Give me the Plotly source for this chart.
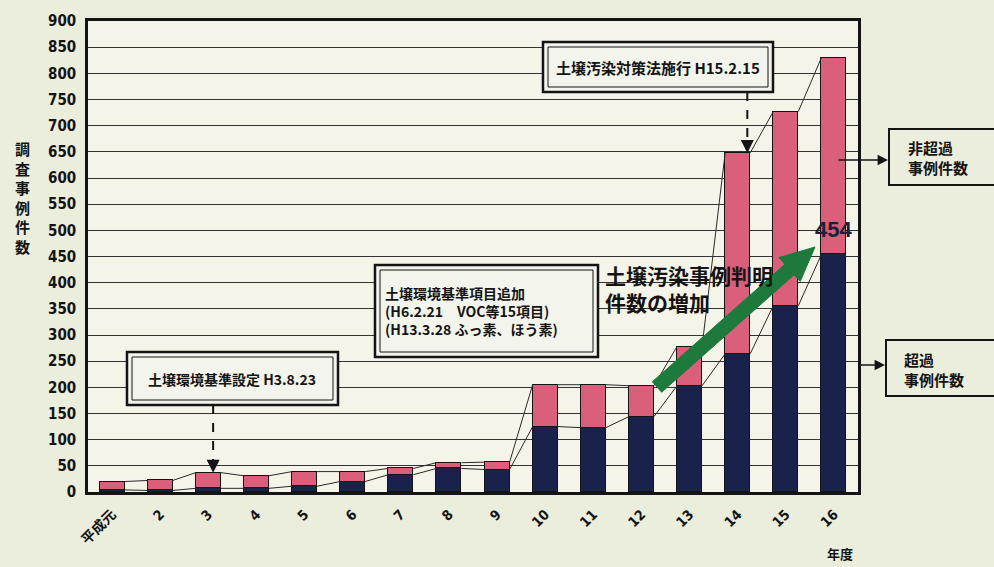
import plotly.graph_objects as go

# 年度 categories and survey counts (soil contamination investigations)
years = ['平成元', '2', '3', '4', '5', '6', '7', '8', '9', '10', '11', '12', '13', '14', '15', '16']
exceed_cases = [4, 3, 7, 7, 11, 20, 33, 45, 43, 125, 123, 144, 203, 264, 356, 454]
total_cases = [20, 22, 37, 31, 39, 39, 45, 56, 57, 205, 205, 203, 278, 648, 727, 830]
non_exceed_cases = [t - e for t, e in zip(total_cases, exceed_cases)]
y_ticks = list(range(0, 901, 50))

NAVY = '#18224c'
PINK = '#d95f7b'
PAPER = '#eceedd'
PLOT_BG = '#f4f4e9'
INK = '#141414'
GREEN = '#1d7a3c'

BAR_W = 0.52
L, R, T, B = 88, 136, 21, 75
W, H = 994, 567
PW, PH = W - L - R, H - T - B


def px(x):
    return (x - L) / PW


def py(y):
    return (H - B - y) / PH


CJK = 'Noto Sans CJK JP, Liberation Sans, sans-serif'
NUM = 'Liberation Sans Narrow, DejaVu Sans Condensed, Liberation Sans, sans-serif'

xs = list(range(len(years)))
fig = go.Figure()
fig.add_bar(x=xs, y=exceed_cases, width=BAR_W, name='超過事例件数',
            marker=dict(color=NAVY, line=dict(color=INK, width=1.5)))
fig.add_bar(x=xs, y=non_exceed_cases, width=BAR_W, name='非超過事例件数',
            marker=dict(color=PINK, line=dict(color=INK, width=1.5)))

# series lines joining the tops of neighbouring stacks
for series in (total_cases, exceed_cases):
    lx, ly = [], []
    for i in range(len(series) - 1):
        lx += [i + BAR_W / 2, i + 1 - BAR_W / 2, None]
        ly += [series[i], series[i + 1], None]
    fig.add_scatter(x=lx, y=ly, mode='lines', line=dict(color='#2a2a2a', width=1),
                    hoverinfo='skip', showlegend=False)

shapes = []
annotations = []


def label(xp, yp, text, size, anchor='center', bold=True, **kw):
    annotations.append(dict(x=px(xp), y=py(yp), xref='paper', yref='paper', showarrow=False,
                            xanchor=anchor, yanchor='middle', align='left' if anchor == 'left' else 'center',
                            text=f'<b>{text}</b>' if bold else text,
                            font=dict(family=CJK, size=size, color=INK), **kw))


def double_box(x0, y0, x1, y1):
    shapes.append(dict(type='rect', xref='paper', yref='paper', x0=px(x0), x1=px(x1),
                       y0=py(y1), y1=py(y0), line=dict(color=INK, width=2.5), fillcolor='#f3f4ec'))
    shapes.append(dict(type='rect', xref='paper', yref='paper', x0=px(x0 + 5), x1=px(x1 - 5),
                       y0=py(y1 - 5), y1=py(y0 + 5), line=dict(color=INK, width=1)))


def single_box(x0, y0, x1, y1):
    shapes.append(dict(type='rect', xref='paper', yref='paper', x0=px(x0), x1=px(x1),
                       y0=py(y1), y1=py(y0), line=dict(color=INK, width=2), fillcolor=PAPER))


def dashed_arrow(xi, box_bottom, target):
    y_top = py(box_bottom) * 900
    shapes.append(dict(type='line', xref='x', yref='y', x0=xi, x1=xi, y0=y_top, y1=target + 20,
                       line=dict(color=INK, width=2, dash='dash')))
    annotations.append(dict(x=xi, y=target, xref='x', yref='y', ax=0, ay=-14, text='',
                            showarrow=True, arrowhead=2, arrowsize=1.3, arrowwidth=2, arrowcolor=INK))


# event boxes
double_box(127, 352, 338, 405)
label(232, 379, '土壌環境基準設定 H3.8.23', 14)
dashed_arrow(2.1, 405, total_cases[2])

double_box(375, 265, 598, 357)
label(383, 311, '土壌環境基準項目追加<br>(H6.2.21\u3000VOC等15項目)<br>(H13.3.28 ふっ素、ほう素)', 14, anchor='left')

double_box(543, 42, 773, 92)
label(658, 67, '土壌汚染対策法施行 H15.2.15', 15)
dashed_arrow(13.2, 92, total_cases[13])

# trend headline
label(603, 288, '土壌汚染事例判明<br>件数の増加', 21, anchor='left')

# green trend arrow
tail = (657, 387)
tip = (815, 247)
dx, dy = tip[0] - tail[0], tip[1] - tail[1]
ln = (dx * dx + dy * dy) ** 0.5
ux, uy = dx / ln, dy / ln
nx, ny = -uy, ux
shaft, head_w, head_l = 7, 16, 34
bx, by = tip[0] - ux * head_l, tip[1] - uy * head_l
pts = [
    (tail[0] + nx * shaft, tail[1] + ny * shaft),
    (bx + nx * shaft, by + ny * shaft),
    (bx + nx * head_w, by + ny * head_w),
    tip,
    (bx - nx * head_w, by - ny * head_w),
    (bx - nx * shaft, by - ny * shaft),
    (tail[0] - nx * shaft, tail[1] - ny * shaft),
]
path = 'M ' + ' L '.join(f'{px(a):.5f},{py(b):.5f}' for a, b in pts) + ' Z'
shapes.append(dict(type='path', xref='paper', yref='paper', path=path,
                   fillcolor=GREEN, line=dict(color=GREEN, width=1)))

# value of the latest exceedance count
annotations.append(dict(x=15, y=exceed_cases[15], xref='x', yref='y', xanchor='center', yanchor='bottom',
                        yshift=10, showarrow=False, text=f'<b>{exceed_cases[15]}</b>',
                        font=dict(family='Liberation Sans, sans-serif', size=22, color='#1a2038')))

# side legend boxes
single_box(889, 129, 1000, 185)
label(906, 157, '非超過<br>事例件数', 15, anchor='left')
annotations.append(dict(x=px(888), y=py(160), xref='paper', yref='paper', ax=-51, ay=0, text='',
                        showarrow=True, arrowhead=2, arrowsize=1.3, arrowwidth=1.6, arrowcolor=INK))

single_box(886, 340, 1000, 396)
label(902, 369, '超過<br>事例件数', 15, anchor='left')
annotations.append(dict(x=px(885), y=py(365), xref='paper', yref='paper', ax=-28, ay=0, text='',
                        showarrow=True, arrowhead=2, arrowsize=1.3, arrowwidth=1.6, arrowcolor=INK))

# axis titles
label(22, 197, '調<br>査<br>事<br>例<br>件<br>数', 15)
label(840, 553, '年度', 13)

fig.update_layout(
    width=W, height=H,
    margin=dict(l=L, r=R, t=T, b=B),
    paper_bgcolor=PAPER, plot_bgcolor=PLOT_BG,
    barmode='stack', bargap=0, showlegend=False,
    shapes=shapes, annotations=annotations,
    xaxis=dict(range=[-0.5, len(years) - 0.5], tickvals=xs, ticktext=years, tickangle=-45,
               showgrid=False, zeroline=False, showline=True, mirror=True,
               linecolor=INK, linewidth=2.5, ticks='', ticklabelstandoff=6,
               tickfont=dict(family=NUM + ', Noto Sans CJK JP', size=14, color=INK, weight='bold')),
    yaxis=dict(range=[0, 900], tickvals=y_ticks, showgrid=True, gridcolor='#333333', gridwidth=1.3,
               zeroline=False, showline=True, mirror=True, linecolor=INK, linewidth=2.5, ticks='',
               ticklabelstandoff=6,
               tickfont=dict(family=NUM, size=15, color=INK, weight='bold')),
)

fig.write_html('out.html')
